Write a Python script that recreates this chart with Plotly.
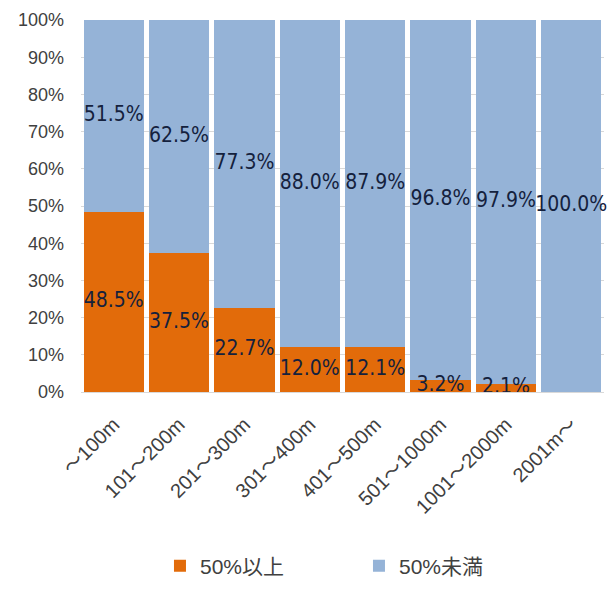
import plotly.graph_objects as go

# Distance bands and share of respondents (percent)
categories = ["～100m", "101～200m", "201～300m", "301～400m",
              "401～500m", "501～1000m", "1001～2000m", "2001m～"]
above_50 = [48.5, 37.5, 22.7, 12.0, 12.1, 3.2, 2.1, 0.0]
below_50 = [51.5, 62.5, 77.3, 88.0, 87.9, 96.8, 97.9, 100.0]
y_ticks = [0, 10, 20, 30, 40, 50, 60, 70, 80, 90, 100]
y_tick_labels = [f"{v}%" for v in y_ticks]

series_names = ["50%以上", "50%未満"]
colors = ["#E26B0A", "#95B3D7"]

label_font = dict(family="DejaVu Sans Condensed, Liberation Sans Narrow, sans-serif",
                  size=21, color="#14213d")

fig = go.Figure()
for name, vals, col in zip(series_names, [above_50, below_50], colors):
    fig.add_trace(go.Bar(
        x=categories, y=vals, name=name,
        marker=dict(color=col, line=dict(width=0)),
        hoverinfo="skip",
    ))

# Value labels centred on each stacked segment
lab_x, lab_y, lab_t = [], [], []
for cat, a, b in zip(categories, above_50, below_50):
    if a > 0:
        lab_x.append(cat); lab_y.append(a / 2); lab_t.append(f"{a:.1f}%")
    if b > 0:
        lab_x.append(cat); lab_y.append(a + b / 2); lab_t.append(f"{b:.1f}%")

fig.add_trace(go.Scatter(
    x=lab_x, y=lab_y, text=lab_t, mode="text",
    textposition="middle center", textfont=label_font,
    cliponaxis=False, showlegend=False, hoverinfo="skip",
))

fig.update_layout(
    barmode="stack",
    bargap=0.08,
    width=607, height=590,
    margin=dict(l=81, r=3, t=20, b=190),
    paper_bgcolor="white", plot_bgcolor="white",
    font=dict(family="Liberation Sans, Arial, sans-serif", size=18, color="#404040"),
    showlegend=True,
    legend=dict(orientation="h", x=0.151, xanchor="left", y=-0.468, yanchor="middle",
                font=dict(family="Liberation Sans, Noto Sans CJK JP, sans-serif", size=21, color="#404040"),
                entrywidth=154, traceorder="normal"),
)
fig.update_yaxes(range=[0, 100], tickvals=y_ticks, ticktext=y_tick_labels,
                 showgrid=True, gridcolor="#D9D9D9", gridwidth=1,
                 zeroline=False, showline=False, ticklabelstandoff=16,
                 fixedrange=True)
fig.update_xaxes(tickangle=-45, showline=True, linecolor="#D9D9D9", linewidth=1,
                 tickfont=dict(family="Liberation Sans, Noto Sans CJK JP, sans-serif", size=20, color="#404040"),
                 ticklabelstandoff=12, fixedrange=True)

fig.write_html("out.html")
